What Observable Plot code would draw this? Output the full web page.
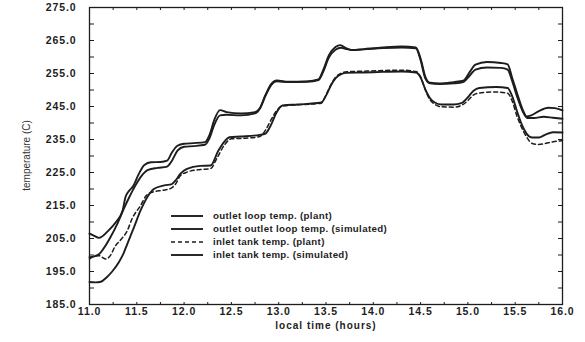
<!DOCTYPE html>
<html><head><meta charset="utf-8">
<script src="https://cdn.jsdelivr.net/npm/d3@7"></script>
<script src="https://cdn.jsdelivr.net/npm/@observablehq/plot@0.6"></script>
<style>
html,body{margin:0;padding:0;background:#fff;}
#chart{width:585px;height:342px;position:relative;}
</style></head><body><div id="chart"></div>
<script>
// ---- data ----
const outletPlantT = [11.0,11.05,11.1,11.2,11.28,11.35,11.38,11.42,11.46,11.52,11.58,11.65,11.75,11.82,11.87,11.93,12.0,12.1,12.22,12.27,12.32,12.38,12.45,12.6,12.75,12.8,12.86,12.92,12.98,13.1,13.3,13.42,13.47,13.53,13.6,13.65,13.72,13.78,13.9,14.1,14.3,14.45,14.5,14.55,14.6,14.7,14.85,14.95,15.02,15.08,15.2,15.35,15.42,15.47,15.52,15.58,15.62,15.67,15.75,15.85,15.92,16.0];
const outletPlantV = [206.5,205.8,205.2,207.4,210,213.5,217.5,219.5,220.8,224.5,227.3,228.1,228.2,228.6,231,233.1,233.7,233.9,234.2,236.5,241,243.9,243.3,242.9,243.3,244.5,248.5,251.8,252.9,252.5,252.6,253.2,256,260.5,263,263.6,262.6,262.1,262.4,262.9,263.2,262.9,259.5,254,252.2,252,252.4,252.8,255.5,257.7,258.5,258.2,257.8,253.5,249,244,242,242.3,243.6,244.6,244.5,243.8];

const outletSimT = [11.0,11.05,11.1,11.15,11.22,11.3,11.36,11.42,11.48,11.55,11.62,11.72,11.82,11.87,11.93,12.0,12.1,12.22,12.27,12.32,12.38,12.45,12.6,12.75,12.8,12.86,12.92,12.98,13.1,13.3,13.42,13.47,13.53,13.6,13.66,13.72,13.78,13.9,14.1,14.3,14.45,14.5,14.55,14.6,14.7,14.85,14.95,15.02,15.08,15.2,15.35,15.42,15.47,15.52,15.58,15.63,15.7,15.8,15.9,16.0];
const outletSimV = [199.3,199.6,200.2,202,205.3,209.8,213.8,217.5,220.8,224,225.8,226.4,226.8,228.5,231.6,232.8,233,233.4,235.5,239.5,242.3,242.5,242.3,242.9,244.3,248.2,251.5,252.6,252.4,252.5,253,255.5,259.8,262.2,262.8,262.4,262.1,262.3,262.7,262.9,262.6,259,253.5,252,251.8,252,252.4,254.4,256.2,256.8,256.7,256.2,252.5,248,243.5,241.5,241.5,241.9,241.6,241.3];

const inletPlantT = [11.0,11.05,11.1,11.17,11.22,11.27,11.33,11.4,11.45,11.54,11.6,11.67,11.77,11.86,11.91,11.96,12.03,12.17,12.28,12.35,12.43,12.5,12.65,12.8,12.86,12.92,12.98,13.05,13.2,13.45,13.5,13.55,13.6,13.66,13.72,13.9,14.1,14.3,14.45,14.5,14.55,14.6,14.65,14.72,14.85,14.93,15.0,15.06,15.12,15.3,15.42,15.47,15.52,15.57,15.62,15.68,15.75,15.85,15.95,16.0];
const inletPlantV = [198.8,199.6,199.8,198.8,199.8,202.6,204.6,207.4,211,215,218,219.1,219.6,220.2,221.5,224,225.1,225.9,226.2,229.5,233.5,235.2,235.4,235.9,237.8,241,243.8,245.2,245.5,246,248.5,251.5,253.8,255.1,255.5,255.7,255.9,256,255.6,254,250,247,245.7,244.9,244.8,245.3,246.8,248.5,249.1,249.4,249,246.5,242,238.5,235.8,233.8,233.5,234,234.5,234.6];

const inletSimT = [11.0,11.06,11.12,11.18,11.24,11.31,11.36,11.4,11.47,11.54,11.61,11.68,11.79,11.87,11.91,11.96,12.03,12.17,12.28,12.36,12.43,12.48,12.6,12.8,12.86,12.92,12.97,13.04,13.2,13.45,13.5,13.55,13.6,13.66,13.72,13.9,14.1,14.3,14.45,14.5,14.55,14.6,14.65,14.72,14.85,14.93,15.0,15.06,15.12,15.3,15.42,15.47,15.52,15.57,15.62,15.68,15.75,15.82,15.9,16.0];
const inletSimV = [191.8,191.7,191.9,193.2,195,197.8,200.5,203.4,208.4,213.5,217.5,220,221.1,221.5,222.6,224.6,226.1,227,227.1,231.5,234.5,235.7,235.9,236.4,236.8,239.5,242.8,245.3,245.6,246.2,248.3,251.3,253.5,254.8,255.2,255.3,255.5,255.6,255.3,253.8,250.2,247.5,246.2,245.6,245.6,246,247.8,249.8,250.6,250.9,250.6,248,243.5,239.5,236.8,235.6,235.6,236.5,237.2,237.1];

const legendLabels = ["outlet loop temp. (plant)", "outlet outlet loop temp. (simulated)", "inlet tank temp. (plant)", "inlet tank temp. (simulated)"];
const legendDashed = [false, false, true, false];

const xTickLabels = [11.0,11.5,12.0,12.5,13.0,13.5,14.0,14.5,15.0,15.5,16.0];
const xMinorTicks = [11.25,11.5,11.75,12,12.25,12.5,12.75,13,13.25,13.5,13.75,14,14.25,14.5,14.75,15,15.25,15.5,15.75];
const yTickLabels = [185,195,205,215,225,235,245,255,265,275];
const yMinorTicks = [190,195,200,205,210,215,220,225,230,235,240,245,250,255,260,265,270];

const xTitle = "local time (hours)";
const yTitle = "temperature (C)";

// ---- chart ----
const W = 585, H = 342, mL = 89, mR = 23, mT = 7, mB = 38;
const frameW = W - mL - mR, frameH = H - mT - mB;
const ink = "#1d1d1d";
const font = "'Liberation Sans', Arial, Helvetica, sans-serif";
const solid = {stroke: ink, strokeWidth: 1.9, curve: "monotone-x"};
const dashPattern = "4,3";
const blank = () => "";

const chart = Plot.plot({
  width: W, height: H,
  marginLeft: mL, marginRight: mR, marginTop: mT, marginBottom: mB,
  style: {fontFamily: font, background: "#fff", color: ink},
  x: {domain: [11, 16]},
  y: {domain: [185, 275]},
  marks: [
    Plot.line(outletPlantT, {x: outletPlantT, y: outletPlantV, ...solid}),
    Plot.line(outletSimT, {x: outletSimT, y: outletSimV, ...solid}),
    Plot.line(inletSimT, {x: inletSimT, y: inletSimV, ...solid}),
    Plot.line(inletPlantT, {x: inletPlantT, y: inletPlantV, ...solid, strokeWidth: 1.5, strokeDasharray: dashPattern}),
    Plot.frame({stroke: ink, strokeWidth: 1.3}),
    // labels
    Plot.axisY(yTickLabels, {tickSize: 0, tickPadding: 13, tickFormat: d => d.toFixed(1), fontSize: 10.5, fontWeight: "bold", label: null}),
    Plot.axisX(xTickLabels, {tickSize: 0, tickPadding: 3, tickFormat: d => d.toFixed(1), fontSize: 10.5, fontWeight: "bold", label: null}),
    // inward ticks (drawn from the opposite side, shifted across the frame)
    Plot.axisY(yMinorTicks, {anchor: "right", tickSize: 4, dx: -frameW, tickFormat: blank, label: null, stroke: ink}),
    Plot.axisY(yMinorTicks, {anchor: "left", tickSize: 4, dx: frameW, tickFormat: blank, label: null, stroke: ink}),
    Plot.axisX(xMinorTicks, {anchor: "top", tickSize: 3, dy: frameH, tickFormat: blank, label: null, stroke: ink}),
    Plot.axisX(xMinorTicks, {anchor: "bottom", tickSize: 3, dy: -frameH, tickFormat: blank, label: null, stroke: ink}),
    // x title
    Plot.text([xTitle], {frameAnchor: "bottom", dy: 24, fontSize: 10, fontWeight: "bold", fill: ink})
  ]
});
document.getElementById("chart").appendChild(chart);

const svg = d3.select(chart);
svg.selectAll('g[aria-label$="tick label"] text').attr("letter-spacing", "0.9");
svg.selectAll('g[aria-label="text"] text').filter(function(){ return this.textContent === xTitle; }).attr("letter-spacing", "1");

// y title, rotated, centred on the frame
svg.append("text")
  .attr("transform", `translate(26,${(mT + H - mB) / 2}) rotate(-90)`)
  .attr("text-anchor", "middle").attr("dy", "0.35em")
  .attr("font-family", font).attr("font-size", 10).attr("fill", "#333")
  .text(yTitle);

// legend (inside the plot area)
const lg = svg.append("g").attr("font-family", font).attr("font-size", 9.7).attr("font-weight", "bold")
  .attr("fill", ink).attr("text-anchor", "start");
const rowY = [216, 229, 242, 255];
legendLabels.forEach((lab, i) => {
  lg.append("line").attr("x1", 171).attr("x2", 203).attr("y1", rowY[i]).attr("y2", rowY[i])
    .attr("stroke", ink).attr("stroke-width", legendDashed[i] ? 1.4 : 1.9)
    .attr("stroke-dasharray", legendDashed[i] ? dashPattern : null);
  lg.append("text").attr("x", 213).attr("y", rowY[i]).attr("dy", "0.35em").attr("letter-spacing", "0.35").text(lab);
});
</script></body></html>
